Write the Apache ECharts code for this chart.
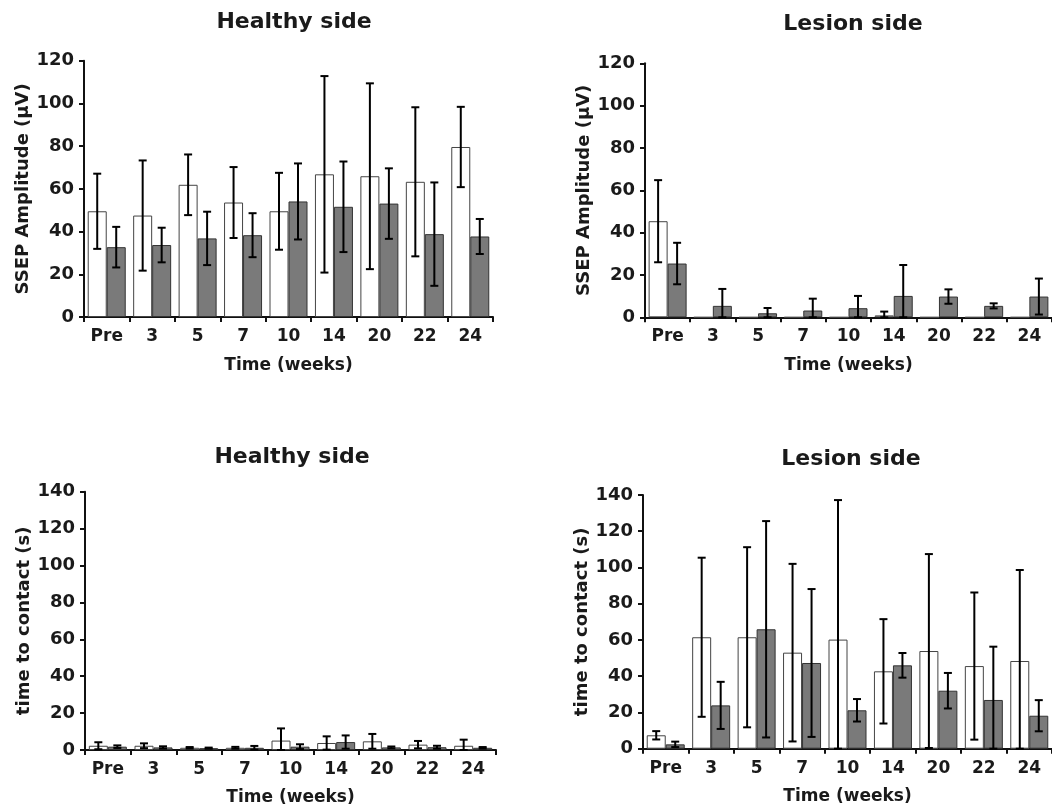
<!DOCTYPE html>
<html>
<head>
<meta charset="utf-8">
<script src="https://cdn.jsdelivr.net/npm/echarts@6/dist/echarts.min.js"></script>
<style>
html,body{margin:0;padding:0;background:#fff;}
#chart{width:1052px;height:809px;}
</style>
</head>
<body>
<div id="chart"></div>
<script>
// ---- data ----
const categories = ['Pre', '3', '5', '7', '10', '14', '20', '22', '24'];

// SSEP amplitude, healthy side (mean, SD)
const ssepHealthyWhite = [49.5, 47.5, 61.9, 53.6, 49.5, 66.8, 65.9, 63.3, 79.6];
const ssepHealthyWhiteSD = [17.6, 25.8, 14.2, 16.6, 18.0, 46.0, 43.5, 34.9, 18.8];
const ssepHealthyGrey = [32.7, 33.7, 36.8, 38.3, 54.1, 51.6, 53.1, 38.8, 37.7];
const ssepHealthyGreySD = [9.5, 8.1, 12.5, 10.3, 17.8, 21.2, 16.5, 24.2, 8.2];

// SSEP amplitude, lesion side
const ssepLesionWhite = [45.4, 0, 0, 0, 0, 0.9, 0, 0, 0];
const ssepLesionWhiteSD = [19.4, 0, 0, 0, 0, 1.8, 0, 0, 0];
const ssepLesionGrey = [25.4, 5.4, 1.9, 3.2, 4.3, 10.1, 9.8, 5.4, 9.8];
const ssepLesionGreySD = [9.8, 8.0, 2.5, 5.6, 5.8, 14.6, 3.4, 1.2, 8.5];

// time to contact, healthy side
const contactHealthyWhite = [2.3, 2.3, 1.2, 1.2, 5.1, 3.8, 4.7, 2.9, 2.3];
const contactHealthyWhiteSD = [1.9, 1.3, 0.4, 0.5, 6.6, 3.6, 4.0, 2.0, 3.3];
const contactHealthyGrey = [1.8, 1.4, 1.0, 1.2, 1.8, 4.3, 1.4, 1.5, 1.2];
const contactHealthyGreySD = [0.7, 0.6, 0.3, 1.0, 1.3, 3.6, 0.5, 0.8, 0.4];

// time to contact, lesion side
const contactLesionWhite = [7.4, 61.5, 61.5, 53.0, 60.2, 42.7, 53.9, 45.6, 48.4];
const contactLesionWhiteSD = [2.3, 43.9, 49.7, 49.0, 77.0, 28.8, 53.5, 40.6, 50.2];
const contactLesionGrey = [2.4, 23.9, 65.9, 47.3, 21.2, 46.0, 32.0, 26.9, 18.2];
const contactLesionGreySD = [1.5, 13.0, 59.7, 40.8, 6.2, 6.8, 9.8, 29.4, 8.6];

const titles = ['Healthy side', 'Lesion side', 'Healthy side', 'Lesion side'];
const yNames = ['SSEP Amplitude (\u03bcV)', 'SSEP Amplitude (\u03bcV)', 'time to contact (s)', 'time to contact (s)'];
const xName = 'Time (weeks)';
const yMax = [120, 120, 140, 140];
const yStep = 20;

// ---- layout / style ----
const FONT = 'DejaVu Sans';
const TXT = '#1a1a1a';
const BAR_W = 19;
const panels = [
  {w: ssepHealthyWhite, ws: ssepHealthyWhiteSD, g: ssepHealthyGrey, gs: ssepHealthyGreySD,
   grid: {left: 84, top: 60.7, width: 409, height: 256.3}, title: [294, 22], xGap: 40},
  {w: ssepLesionWhite, ws: ssepLesionWhiteSD, g: ssepLesionGrey, gs: ssepLesionGreySD,
   grid: {left: 645, top: 63.3, width: 413, height: 254}, title: [853, 24], xGap: 40},
  {w: contactHealthyWhite, ws: contactHealthyWhiteSD, g: contactHealthyGrey, gs: contactHealthyGreySD,
   grid: {left: 85, top: 491.7, width: 411, height: 258.3}, title: [292, 457], xGap: 39},
  {w: contactLesionWhite, ws: contactLesionWhiteSD, g: contactLesionGrey, gs: contactLesionGreySD,
   grid: {left: 643, top: 495, width: 413, height: 253.7}, title: [851, 459], xGap: 39}
];

function errData(mean, sd) {
  const out = [];
  mean.forEach((m, i) => {
    if (m === 0 && sd[i] === 0) return;
    out.push([i, Math.max(0, m - sd[i]), m + sd[i]]);
  });
  return out;
}

function errRender(sign) {
  return function (params, api) {
    const i = api.value(0);
    const lo = api.coord([i, api.value(1)]);
    const hi = api.coord([i, api.value(2)]);
    const x = lo[0] + sign * BAR_W / 2;
    const cap = 4;
    const st = {stroke: '#000', lineWidth: 2};
    return {
      type: 'group',
      children: [
        {type: 'line', shape: {x1: x, y1: lo[1], x2: x, y2: hi[1]}, style: st},
        {type: 'line', shape: {x1: x - cap, y1: hi[1], x2: x + cap, y2: hi[1]}, style: st},
        {type: 'line', shape: {x1: x - cap, y1: lo[1], x2: x + cap, y2: lo[1]}, style: st}
      ]
    };
  };
}

const option = {
  backgroundColor: '#fff',
  animation: false,
  title: [], grid: [], xAxis: [], yAxis: [], series: []
};

panels.forEach((p, k) => {
  option.title.push({
    text: titles[k], left: p.title[0], top: p.title[1], padding: 0,
    textAlign: 'center', textVerticalAlign: 'middle',
    textStyle: {fontFamily: FONT, fontWeight: 'bold', fontSize: 22, color: TXT}
  });
  option.grid.push(Object.assign({containLabel: false}, p.grid));
  option.xAxis.push({
    type: 'category', gridIndex: k, data: categories,
    name: xName, nameLocation: 'middle', nameGap: p.xGap,
    nameTextStyle: {fontFamily: FONT, fontWeight: 'bold', fontSize: 17, color: TXT},
    axisLine: {lineStyle: {color: '#111', width: 2}},
    axisTick: {show: true, length: 5, lineStyle: {color: '#111', width: 2}},
    axisLabel: {fontFamily: FONT, fontWeight: 'bold', fontSize: 17, color: TXT, margin: 11, interval: 0}
  });
  option.yAxis.push({
    type: 'value', gridIndex: k, min: 0, max: yMax[k], interval: yStep,
    name: yNames[k], nameLocation: 'middle', nameGap: 52,
    nameTextStyle: {fontFamily: FONT, fontWeight: 'bold', fontSize: 18, color: TXT},
    axisLine: {show: true, lineStyle: {color: '#111', width: 2}},
    axisTick: {show: true, length: 5, lineStyle: {color: '#111', width: 2}},
    splitLine: {show: false},
    axisLabel: {fontFamily: FONT, fontWeight: 'bold', fontSize: 18, color: TXT, margin: 10}
  });
  option.series.push({
    type: 'bar', xAxisIndex: k, yAxisIndex: k, data: p.w,
    barWidth: BAR_W, barGap: '0%',
    itemStyle: {color: '#ffffff', borderColor: '#444', borderWidth: 1}
  });
  option.series.push({
    type: 'bar', xAxisIndex: k, yAxisIndex: k, data: p.g,
    barWidth: BAR_W, barGap: '0%',
    itemStyle: {color: '#7a7a7a', borderColor: '#333', borderWidth: 1}
  });
  option.series.push({
    type: 'custom', xAxisIndex: k, yAxisIndex: k, z: 5,
    renderItem: errRender(-1), data: errData(p.w, p.ws)
  });
  option.series.push({
    type: 'custom', xAxisIndex: k, yAxisIndex: k, z: 5,
    renderItem: errRender(1), data: errData(p.g, p.gs)
  });
});

const chart = echarts.init(document.getElementById('chart'), null, {renderer: 'canvas'});
chart.setOption(option);
</script>
</body>
</html>
